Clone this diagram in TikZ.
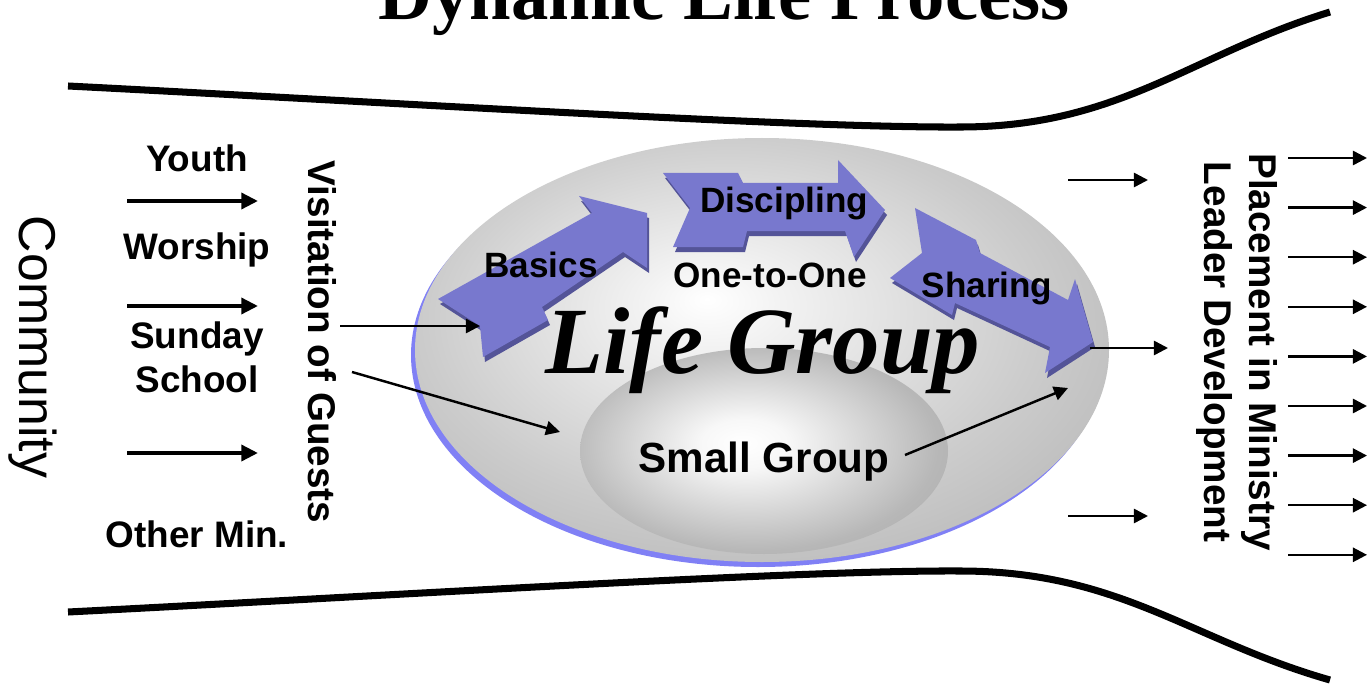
\documentclass[tikz,border=0pt]{standalone}
\usepackage{fontspec}
\setmainfont{Liberation Sans}
\newfontfamily\timesbold{Liberation Serif}
\usetikzlibrary{arrows.meta}
\definecolor{arrowblue}{RGB}{120,120,206}
\definecolor{arrowdark}{RGB}{84,84,152}
\definecolor{rimblue}{RGB}{128,128,245}
\pgfdeclareradialshading{lifeshade}{\pgfpoint{-4bp}{6bp}}{color(0bp)=(white);color(5bp)=(white!95!black);color(22bp)=(white!80!black);color(34bp)=(white!71!black);color(50bp)=(white!70!black)}
\pgfdeclareradialshading{smallshade}{\pgfpoint{-3bp}{2bp}}{color(0bp)=(white);color(6bp)=(white!97!black);color(25bp)=(white!72!black);color(50bp)=(white!57!black)}
\begin{document}
\begin{tikzpicture}[x=0.02cm,y=-0.02cm,
	lbl/.style={font=\bfseries\fontsize{21}{25}\selectfont,align=center,anchor=base},
	tag/.style={font=\bfseries\fontsize{20}{22}\selectfont,anchor=base},
	side/.style={font=\bfseries\fontsize{22}{25.5}\selectfont,rotate=-90,align=center},
	fatarrow/.style={line width=2.3pt,-{Triangle[length=9.5pt,width=9pt]}},
	thinarrow/.style={line width=1.4pt,-{Triangle[length=8pt,width=8pt]}},
	funnel/.style={line width=4pt}]
	\useasboundingbox (0,0) rectangle (1368,689);
	\node[font=\timesbold\bfseries\fontsize{42.5}{42.5}\selectfont,anchor=base] (title) at (724,20) {Dynamic Life Process};
	
	\draw[funnel] (68,86) .. controls (400,103) and (800,128) .. (960,127) .. controls (1120,127) and (1190,55) .. (1330,12);
	\draw[funnel] (68,612) .. controls (400,595) and (800,570) .. (960,571) .. controls (1120,571) and (1190,640) .. (1330,680);
	
	\fill[rimblue] (758,355) ellipse [x radius=347, y radius=212];
	\shade[shading=lifeshade] (762,350) ellipse [x radius=347, y radius=212];
	\shade[shading=smallshade] (764,451) ellipse [x radius=184, y radius=103];
	
	% block arrows, dark edge first
	\foreach \dx/\dy/\col in {2/5/arrowdark,0/0/arrowblue} {
		\fill[fill=\col,shift={(\dx,\dy)}] (438,299) -- (592,213) -- (579,196) -- (647,213) -- (647,268) -- (623,252) -- (542,307) -- (548,320) -- (483,357) -- (480,326) -- cycle;
		\fill[fill=\col,shift={(\dx,\dy)}] (663,173) -- (738,173) -- (743,183) -- (838,183) -- (838,160) -- (885,210) -- (854,257) -- (845,231) -- (747,231) -- (743,247) -- (673,247) -- (690,208) -- cycle;
		\fill[fill=\col,shift={(\dx,\dy)}] (915,208) -- (976,240) -- (980,253) -- (1068,300) -- (1075,279) -- (1093,342) -- (1045,373) -- (1050,347) -- (955,303) -- (952,315) -- (890,278) -- (922,253) -- cycle;
	}
	
	\node[tag] (basics) at (541,277) {Basics};
	\node[tag] (discipling) at (784,213) {Discipling};
	\node[tag] (onetoone) at (770,287) {One-to-One};
	\node[tag] (sharing) at (987,297) {Sharing};
	\node[font=\timesbold\bfseries\itshape\fontsize{54}{54}\selectfont,anchor=base] (lifegroup) at (763,373) {Life Group};
	\node[font=\bfseries\fontsize{24}{24}\selectfont,anchor=base] (smallgroup) at (764,472) {Small Group};
	
	% left side
	\node[rotate=-90,font=\fontsize{29.5}{30}\selectfont] (community) at (33,347) {Community};
	\node[lbl] (youth) at (197,172) {Youth};
	\node[lbl] (worship) at (197,259) {Worship};
	\node[lbl] (sunday) at (197,392) {Sunday\\School};
	\node[lbl] (othermin) at (197,547) {Other Min.};
	\node[side] (visit) at (322,342) {Visitation of Guests};
	
	\coordinate (ya) at (127,201);
	\coordinate (yb) at (258,201);
	\coordinate (wa) at (127,306);
	\coordinate (wb) at (258,306);
	\coordinate (oa) at (127,453);
	\coordinate (ob) at (258,453);
	\draw[fatarrow] (ya) -- (yb);
	\draw[fatarrow] (wa) -- (wb);
	\draw[fatarrow] (oa) -- (ob);
	
	\coordinate (va) at (340,326);
	\coordinate (vb) at (480,326);
	\coordinate (vc) at (352,372);
	\coordinate (vd) at (560,432);
	\draw[thinarrow] (va) -- (vb);
	\draw[thinarrow] (vc) -- (vd);
	
	\coordinate (sga) at (905,455);
	\coordinate (sgb) at (1068,388);
	\draw[thinarrow] (sga) -- (sgb);
	
	% right side
	\coordinate (ra) at (1068,180);
	\coordinate (rb) at (1148,180);
	\coordinate (rc) at (1090,348);
	\coordinate (rd) at (1168,348);
	\coordinate (re) at (1068,516);
	\coordinate (rf) at (1148,516);
	\draw[thinarrow] (ra) -- (rb);
	\draw[thinarrow] (rc) -- (rd);
	\draw[thinarrow] (re) -- (rf);
	
	\node[side] (placement) at (1237,352) {Placement in Ministry\\Leader Development};
	\foreach \i in {0,...,8} {
		\coordinate (pa\i) at (1288,158+49.6*\i);
		\coordinate (pb\i) at (1367,158+49.6*\i);
		\draw[thinarrow] (pa\i) -- (pb\i);
	}
\end{tikzpicture}
\end{document}
